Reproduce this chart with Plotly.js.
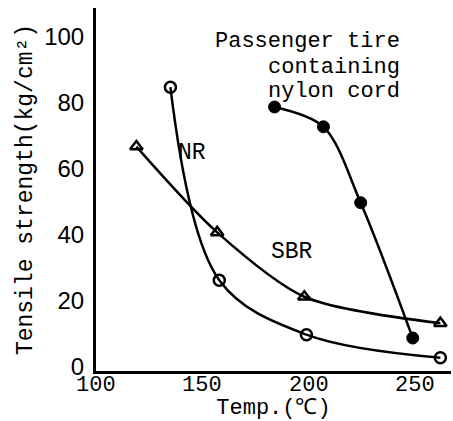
<!DOCTYPE html>
<html>
<head>
<meta charset="utf-8">
<script src="https://cdn.plot.ly/plotly-3.0.1.min.js"></script>
<style>html,body{margin:0;padding:0;background:#fff;}#chart{width:453px;height:421px;}</style>
</head>
<body>
<div id="chart"></div>
<script>
// Data
const nrTemp = [135, 158, 199, 262];
const nrStrength = [86, 27.5, 11, 4];

const sbrTemp = [119, 157, 198, 262];
const sbrStrength = [68, 42, 22.5, 14.5];

const nylonTemp = [184, 207, 224.5, 249];
const nylonStrength = [80, 74, 51, 10];

const xTickVals = [100, 150, 200, 250];
const xTickText = ["100", "150", "200", "250"];
const yTickVals = [0, 20, 40, 60, 80, 100];

const mono = "Liberation Mono, Courier New, monospace";
const sans = "Liberation Sans, Arial, sans-serif";

const traces = [
  {
    x: nrTemp, y: nrStrength, name: "NR", mode: "lines+markers",
    line: {color: "#000", width: 2.5, shape: "spline", smoothing: 1.0},
    marker: {symbol: "circle-open", size: 11, color: "#000", line: {width: 2.5, color: "#000"}}
  },
  {
    x: sbrTemp, y: sbrStrength, name: "SBR", mode: "lines+markers",
    line: {color: "#000", width: 2.5, shape: "spline", smoothing: 0.8},
    marker: {symbol: "triangle-up-open", size: 11, color: "#000", line: {width: 2.5, color: "#000"}}
  },
  {
    x: nylonTemp, y: nylonStrength, name: "Nylon cord", mode: "lines+markers",
    line: {color: "#000", width: 2.5, shape: "spline", smoothing: 0.9},
    marker: {symbol: "circle", size: 12, color: "#000", line: {width: 1, color: "#000"}}
  }
];

// x tick labels placed just under the axis line (as in the reference)
const xTickAnnotations = xTickVals.map((v, i) => ({
  x: v, y: 0, xref: "x", yref: "paper", text: xTickText[i], showarrow: false,
  xanchor: "center", yanchor: "middle", yshift: -14,
  font: {family: mono, size: 22, color: "#000"}
}));

const layout = {
  width: 453, height: 421,
  margin: {l: 96, r: 2, t: 8, b: 50},
  paper_bgcolor: "#fff", plot_bgcolor: "#fff",
  showlegend: false,
  xaxis: {
    range: [100, 267],
    automargin: false,
    tickvals: xTickVals,
    showticklabels: false,
    ticks: "", ticklen: 0, showgrid: false, zeroline: false,
    showline: true, linecolor: "#000", linewidth: 3,
    title: {text: "Temp.(℃)", font: {family: mono, size: 22, color: "#000"}, standoff: 26}
  },
  yaxis: {
    range: [0, 110],
    automargin: false,
    tickvals: yTickVals,
    ticks: "", ticklen: 0, showgrid: false, zeroline: false,
    showline: true, linecolor: "#000", linewidth: 3,
    ticklabelstandoff: 4,
    ticklabelshift: -4,
    tickfont: {family: sans, size: 24, color: "#000"},
    title: {text: "Tensile strength(kg/cm²)", font: {family: mono, size: 23, color: "#000"}, standoff: 6}
  },
  annotations: xTickAnnotations.concat([
    {x: 244, y: 99.7, xref: "x", yref: "y", text: "Passenger tire", showarrow: false, xanchor: "right", yanchor: "middle", font: {family: mono, size: 22, color: "#000"}},
    {x: 244, y: 92.1, xref: "x", yref: "y", text: "containing", showarrow: false, xanchor: "right", yanchor: "middle", font: {family: mono, size: 22, color: "#000"}},
    {x: 244, y: 84.6, xref: "x", yref: "y", text: "nylon cord", showarrow: false, xanchor: "right", yanchor: "middle", font: {family: mono, size: 22, color: "#000"}},
    {x: 145, y: 66, xref: "x", yref: "y", text: "NR", showarrow: false, xanchor: "center", yanchor: "middle", font: {family: mono, size: 23, color: "#000"}},
    {x: 192, y: 36, xref: "x", yref: "y", text: "SBR", showarrow: false, xanchor: "center", yanchor: "middle", font: {family: mono, size: 23, color: "#000"}}
  ])
};

Plotly.newPlot("chart", traces, layout, {staticPlot: true, displayModeBar: false});
</script>
</body>
</html>
